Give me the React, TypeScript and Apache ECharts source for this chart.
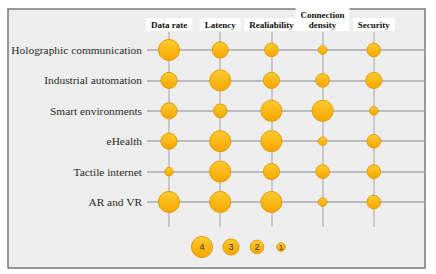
import React, { useEffect, useRef } from "react";
import * as echarts from "echarts";

const columns = ["Data rate", "Latency", "Realiability", "Connection\ndensity", "Security"];
const rows = [
  "Holographic communication",
  "Industrial automation",
  "Smart environments",
  "eHealth",
  "Tactile internet",
  "AR and VR",
];
const holographic = [4, 3, 2, 1, 2];
const industrial = [3, 4, 3, 2, 3];
const smartEnv = [3, 2, 4, 4, 1];
const eHealth = [3, 4, 4, 1, 2];
const tactile = [1, 4, 3, 2, 2];
const arVr = [4, 4, 4, 1, 2];
const rowValues = [holographic, industrial, smartEnv, eHealth, tactile, arVr];
const legendLevels = [4, 3, 2, 1];

// style: diameter per level
const SIZE = [0, 8.5, 13.5, 16, 21];
const FONT_SERIF = "Liberation Serif, Times New Roman, serif";

const bubbleFill = () =>
  new echarts.graphic.LinearGradient(0, 0, 0, 1, [
    { offset: 0, color: "#FFCC30" },
    { offset: 1, color: "#F6A500" },
  ]);

export default function App() {
  const ref = useRef<HTMLDivElement>(null);
  useEffect(() => {
    if (!ref.current) return;
    const chart = echarts.init(ref.current, undefined, { renderer: "svg" });
    const data: number[][] = [];
    rowValues.forEach((vals, r) => vals.forEach((v, c) => data.push([c, r, v])));

    const legendX = [202, 231, 257, 281];
    const legendGraphics: any[] = [];
    legendLevels.forEach((lv, i) => {
      legendGraphics.push({
        type: "circle",
        shape: { cx: legendX[i], cy: 247, r: SIZE[lv] / 2 },
        style: { fill: bubbleFill(), stroke: "#E09E00", lineWidth: 1 },
        z: 10,
      });
      legendGraphics.push({
        type: "text",
        x: legendX[i],
        y: 247,
        style: {
          text: String(lv),
          fontSize: lv === 1 ? 8 : 9,
          fontFamily: "Liberation Sans, Arial, sans-serif",
          fill: "#333",
          align: "center",
          verticalAlign: "middle",
        },
        z: 11,
      });
    });

    chart.setOption({
      animation: false,
      textStyle: { fontFamily: FONT_SERIF },
      graphic: [
        {
          type: "rect",
          shape: { x: 8, y: 9, width: 417, height: 259 },
          style: { fill: "#EEEEEE", stroke: "#7A7A7A", lineWidth: 1.5 },
          z: -10,
        },
        ...legendGraphics,
      ],
      grid: { left: 147, right: 11, top: 32, bottom: 47 },
      xAxis: {
        type: "value",
        position: "top",
        min: -0.43,
        max: 5,
        axisLine: { show: false },
        axisTick: { show: false },
        splitLine: { show: false },
        axisLabel: {
          customValues: [0, 1, 2, 3, 4],
          margin: 1,
          formatter: (v: number) => (Number.isInteger(v) && columns[v] !== undefined ? columns[v] : ""),
          fontFamily: FONT_SERIF,
          fontWeight: "bold",
          fontSize: 9,
          lineHeight: 10,
          color: "#111",
          backgroundColor: "#FFFFFF",
          padding: [2, 5, 1, 5],
        },
      },
      yAxis: {
        type: "value",
        inverse: true,
        min: -0.592,
        max: 5.822,
        axisLine: { show: false },
        axisTick: { show: false },
        splitLine: { show: false },
        axisLabel: {
          customValues: [0, 1, 2, 3, 4, 5],
          margin: 5,
          formatter: (v: number) => (Number.isInteger(v) && rows[v] !== undefined ? rows[v] : ""),
          fontFamily: FONT_SERIF,
          fontSize: 11.4,
          color: "#2a2a2a",
        },
      },
      series: [
        {
          type: "scatter",
          data: [],
          z: 1,
          silent: true,
          markLine: {
            silent: true,
            symbol: "none",
            label: { show: false },
            lineStyle: { color: "#ABABAB", width: 1.5, type: "solid" },
            data: [
              ...rows.map((_, i) => ({ yAxis: i })),
              ...columns.map((_, i) => ({ xAxis: i, lineStyle: { color: "#BDBDBD", width: 1.5, type: "solid" } })),
            ],
          },
        },
        {
          type: "scatter",
          z: 5,
          data,
          symbolSize: (d: number[]) => SIZE[d[2]],
          itemStyle: {
            color: bubbleFill(),
            borderColor: "#E09E00",
            borderWidth: 1,
            opacity: 1,
          },
        },
      ],
    });
    return () => chart.dispose();
  }, []);
  return (
    <div
      ref={ref}
      style={{ position: "fixed", left: 0, top: 0, width: 436, height: 274, background: "#fff" }}
    />
  );
}
